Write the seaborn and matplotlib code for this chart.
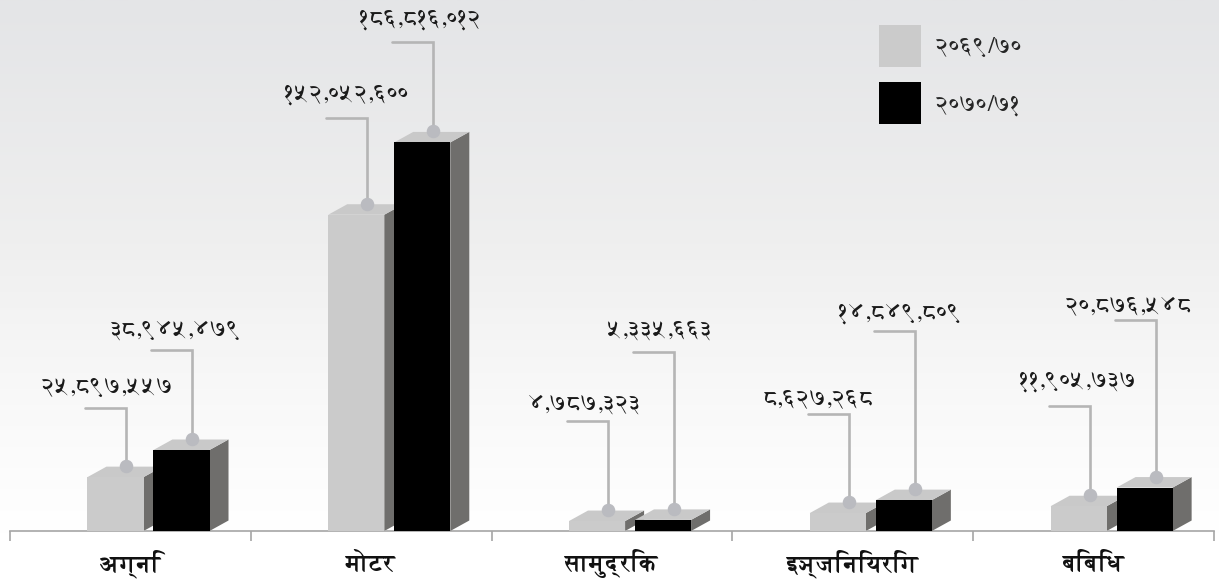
import numpy as np
import pandas as pd
import seaborn as sns
import matplotlib
matplotlib.use('Agg')
import matplotlib.pyplot as plt
from matplotlib.colors import LinearSegmentedColormap
from matplotlib.patches import Polygon

categories = ['अग्नि', 'मोटर', 'सामुद्रिक', 'इञ्जिनियरिंग', 'बिबिध']
years = ['२०६९/७०', '२०७०/७१']
values_6970 = [25897557, 152052600, 4787323, 8627268, 11905737]
values_7071 = [38945479, 186816012, 5335663, 14849809, 20876548]
labels_6970 = ['२५,८९७,५५७', '१५२,०५२,६००', '४,७८७,३२३', '८,६२७,२६८', '११,९०५,७३७']
labels_7071 = ['३८,९४५,४७९', '१८६,८१६,०१२', '५,३३५,६६३', '१४,८४९,८०९', '२०,८७६,५४८']

# callout geometry, pixels
rise_6970 = [58, 86, 89, 88, 89]
rise_7071 = [89, 89, 157, 158, 157]
text_dx_6970 = [-19, -20, -22, -29, -11]
text_dx_7071 = [-16, -12, -14, -14, -26]
text_dy_6970 = [21, 23, 17, 15, 25]
text_dy_7071 = [20, 23, 22, 18, 13]

sns.set_theme(style='white')
plt.rcParams['font.family'] = ['FreeSerif', 'Noto Serif Devanagari', 'DejaVu Sans']

W, H = 1219, 579
BASE = 531
PX_X = 240.8       # pixels per category
PX_Y = 2.08e-6     # pixels per unit
DEPTH_X, DEPTH_Y = 19, 10.5

fig = plt.figure(figsize=(W / 100, H / 100), dpi=100)

# background gradient
bg = fig.add_axes([0, 0, 1, 1], zorder=-1)
cmap = LinearSegmentedColormap.from_list('bg', [(0, '#e4e5e7'), (0.42, '#efefef'), (0.7, '#f9f9f9'), (0.92, '#ffffff'), (1, '#ffffff')])
bg.imshow(np.linspace(0, 1, 256)[:, None], aspect='auto', cmap=cmap)
bg.axis('off')

ax = fig.add_axes([10 / W, (H - BASE) / H, 1204 / W, BASE / H])
ax.patch.set_alpha(0)

df = pd.DataFrame({
    'category': categories * 2,
    'year': [years[0]] * 5 + [years[1]] * 5,
    'value': values_6970 + values_7071,
})
sns.barplot(data=df, x='category', y='value', hue='year', order=categories, hue_order=years,
            palette=['#cbcbcb', '#000000'], saturation=1, width=0.548, gap=0.15, linewidth=0, ax=ax)

ax.set_xlim((10 - 148.5) / PX_X, (1214 - 148.5) / PX_X)
ax.set_ylim(0, BASE / PX_Y)

dx = DEPTH_X / PX_X
dy = DEPTH_Y / PX_Y

series = [
    (ax.containers[0], labels_6970, rise_6970, text_dx_6970, text_dy_6970, 2),
    (ax.containers[1], labels_7071, rise_7071, text_dx_7071, text_dy_7071, 4),
]
for bars, labels, rises, tdx, tdy, z in series:
    for bar, label, rise, tx, ty in zip(bars, labels, rises, tdx, tdy):
        x0, x1 = bar.get_x(), bar.get_x() + bar.get_width()
        h = bar.get_height()
        bar.set_zorder(z + 1)
        # fake 3d faces
        ax.add_patch(Polygon([(x1, 0), (x1 + dx, dy), (x1 + dx, h + dy), (x1, h)], closed=True,
                             facecolor='#6f6e6c', edgecolor='none', zorder=z))
        ax.add_patch(Polygon([(x0, h), (x0 + dx, h + dy), (x1 + dx, h + dy), (x1, h)], closed=True,
                             facecolor='#c9c9c9', edgecolor='none', zorder=z))
        # callout
        cx = x0 + 39 / PX_X
        cy = h + 11 / PX_Y
        top = cy + rise / PX_Y
        ax.plot([cx, cx, cx - 41 / PX_X], [cy, top, top], color='#b5b5b5', lw=1.9,
                solid_joinstyle='miter', zorder=7)
        ax.scatter([cx], [cy], s=95, color='#babbc0', linewidths=0, zorder=8)
        ax.text(cx + tx / PX_X, top + ty / PX_Y, label, ha='center', va='center',
                fontsize=17, color='#1a1a1a', zorder=9)

# axis
ax.set_xlabel('')
ax.set_ylabel('')
ax.set_yticks([])
for side in ['top', 'left', 'right']:
    ax.spines[side].set_visible(False)
ax.spines['bottom'].set_color('#a6a6a6')
ax.spines['bottom'].set_linewidth(1.2)
label_pos = [i - 18 / PX_X for i in range(5)]
ax.set_xticks(label_pos)
ax.set_xticklabels(categories, fontsize=17, fontweight='bold', color='#111111', va='baseline')
ax.tick_params(axis='x', which='major', length=0, pad=29)
ax.set_xticks([i - 0.5 - 18 / PX_X for i in range(6)], minor=True)
ax.tick_params(axis='x', which='minor', length=7, width=1.2, color='#a6a6a6', bottom=True)

ax.legend(loc='upper left', bbox_to_anchor=(869 / 1204, (BASE - 25) / BASE), frameon=False,
          fontsize=17, handlelength=1.78, handleheight=2.37, labelspacing=0.62, handletextpad=0.62,
          borderpad=0, borderaxespad=0, title=None)

fig.savefig('out.png', dpi=100)
